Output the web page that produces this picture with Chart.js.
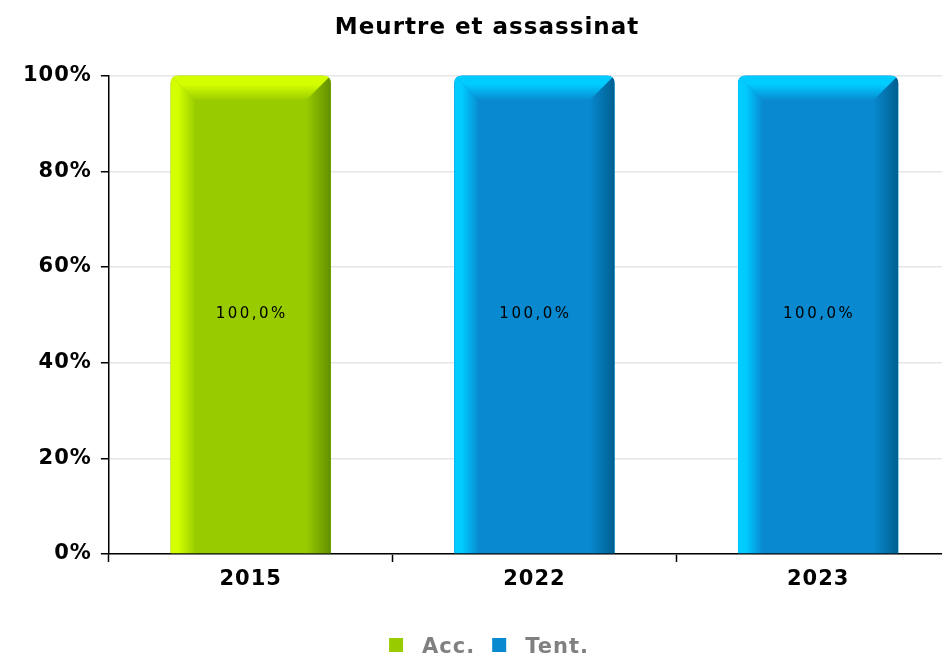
<!DOCTYPE html>
<html>
<head>
<meta charset="utf-8">
<script src="https://cdn.jsdelivr.net/npm/chart.js@4/dist/chart.umd.min.js"></script>
<style>
  html, body { margin: 0; padding: 0; background: #fff; overflow: hidden; }
  #wrap { position: absolute; left: 0; top: 0; }
</style>
</head>
<body>
<div id="wrap"><canvas id="chart" width="960" height="655"></canvas></div>
<script>
// ---- Data ----
const categories = ['2015', '2022', '2023'];
const seriesNames = ['Acc.', 'Tent.'];
const accValues  = [100, null, null];
const tentValues = [null, 100, 100];
const yTickValues = [0, 20, 40, 60, 80, 100];

// ---- Palette (main / light / dark) ----
const PAL = [
  { main: '#99cc00', light: '#d4ff00', dark: '#628f00' },
  { main: '#0889d0', light: '#00ccff', dark: '#005f8f' }
];

const FONT = '"DejaVu Sans", Verdana, sans-serif';
const RADIUS = 8;

function fmtPct(v) {
  return v.toFixed(1).replace('.', ',') + '%';
}

function roundTopPath(ctx, l, t, r, b, rad) {
  ctx.beginPath();
  ctx.moveTo(l, b);
  ctx.lineTo(l, t + rad);
  ctx.quadraticCurveTo(l, t, l + rad, t);
  ctx.lineTo(r - rad, t);
  ctx.quadraticCurveTo(r, t, r, t + rad);
  ctx.lineTo(r, b);
  ctx.closePath();
}

// slightly wider text, like the original renderer
const spacingPlugin = {
  id: 'spacing',
  beforeLayout(chart) { chart.ctx.letterSpacing = '1px'; },
  beforeDraw(chart) { chart.ctx.letterSpacing = '1px'; }
};

// ---- Bevel bars + value labels ----
const bevelPlugin = {
  id: 'bevel',
  afterDatasetsDraw(chart) {
    const ctx = chart.ctx;
    chart.data.datasets.forEach((ds, di) => {
      const meta = chart.getDatasetMeta(di);
      const pal = PAL[di];
      meta.data.forEach((bar, i) => {
        const v = ds.data[i];
        if (v == null || v === 0) return;
        const p = bar.getProps(['x', 'y', 'base', 'width'], true);
        const l = p.x - p.width / 2, r = p.x + p.width / 2;
        const t = Math.min(p.y, p.base), b = Math.max(p.y, p.base);
        const e = 25;
        ctx.save();
        roundTopPath(ctx, l, t, r, b, RADIUS);
        ctx.clip();
        ctx.fillStyle = pal.main;
        ctx.fillRect(l, t, r - l, b - t);

        // top bevel
        let g = ctx.createLinearGradient(0, t, 0, t + e);
        g.addColorStop(0, pal.light);
        g.addColorStop(0.35, pal.light);
        g.addColorStop(1, pal.main);
        ctx.fillStyle = g;
        ctx.beginPath();
        ctx.moveTo(l, t); ctx.lineTo(r, t); ctx.lineTo(r - e, t + e); ctx.lineTo(l + e, t + e);
        ctx.closePath(); ctx.fill();

        // left bevel
        g = ctx.createLinearGradient(l, 0, l + e, 0);
        g.addColorStop(0, pal.light);
        g.addColorStop(0.3, pal.light);
        g.addColorStop(1, pal.main);
        ctx.fillStyle = g;
        ctx.beginPath();
        ctx.moveTo(l, t); ctx.lineTo(l + e, t + e); ctx.lineTo(l + e, b); ctx.lineTo(l, b);
        ctx.closePath(); ctx.fill();

        // right bevel
        g = ctx.createLinearGradient(r - e, 0, r, 0);
        g.addColorStop(0, pal.main);
        g.addColorStop(1, pal.dark);
        ctx.fillStyle = g;
        ctx.beginPath();
        ctx.moveTo(r, t); ctx.lineTo(r, b); ctx.lineTo(r - e, b); ctx.lineTo(r - e, t + e);
        ctx.closePath(); ctx.fill();
        ctx.restore();

        // value label
        ctx.save();
        ctx.font = '15px ' + FONT;
        ctx.letterSpacing = '2.5px';
        ctx.fillStyle = '#000';
        ctx.textAlign = 'center';
        ctx.textBaseline = 'middle';
        ctx.fillText(fmtPct(v), p.x + 1, (t + b) / 2);
        ctx.restore();
      });
    });
  }
};

// ---- Legend at the bottom edge (partly cut off, as in the original) ----
const legendPlugin = {
  id: 'bottomLegend',
  afterDraw(chart) {
    const ctx = chart.ctx;
    ctx.save();
    ctx.font = 'bold 21px ' + FONT;
    ctx.letterSpacing = '1px';
    ctx.textBaseline = 'alphabetic';
    ctx.textAlign = 'left';
    const box = 14, gap = 19, itemGap = 17, baseY = 653;
    const items = chart.data.datasets.map((ds, i) => ({ text: ds.label, color: PAL[i].main, w: ctx.measureText(ds.label).width }));
    const total = items.reduce((s, it) => s + box + gap + it.w, 0) + itemGap * (items.length - 1);
    let x = 489 - total / 2;
    items.forEach(it => {
      ctx.fillStyle = it.color;
      ctx.fillRect(x, baseY - box - 1, box, box);
      x += box + gap;
      ctx.fillStyle = '#808080';
      ctx.fillText(it.text, x, baseY);
      x += it.w + itemGap;
    });
    ctx.restore();
  }
};

new Chart(document.getElementById('chart'), {
  type: 'bar',
  data: {
    labels: categories,
    datasets: [
      { label: seriesNames[0], data: accValues,  backgroundColor: PAL[0].main, borderWidth: 0,
        borderRadius: { topLeft: RADIUS, topRight: RADIUS }, borderSkipped: 'bottom' },
      { label: seriesNames[1], data: tentValues, backgroundColor: PAL[1].main, borderWidth: 0,
        borderRadius: { topLeft: RADIUS, topRight: RADIUS }, borderSkipped: 'bottom' }
    ]
  },
  options: {
    responsive: false,
    animation: false,
    barPercentage: 0.565,
    categoryPercentage: 1,
    layout: { padding: { left: 14, right: 0, top: 0, bottom: 61 } },
    plugins: {
      title: {
        display: true,
        text: 'Meurtre et assassinat',
        color: '#000',
        font: { family: FONT, size: 23, weight: 'bold' },
        padding: { top: 14, bottom: 34 }
      },
      legend: { display: false },
      tooltip: { enabled: false }
    },
    scales: {
      x: {
        stacked: true,
        grid: { drawOnChartArea: false, tickLength: 8, tickColor: '#000', tickWidth: 1.5 },
        border: { color: '#000', width: 1.5 },
        ticks: { color: '#000', font: { family: FONT, size: 21, weight: 'bold' }, padding: 5 },
        afterFit: axis => { axis.height = 40; }
      },
      y: {
        stacked: true,
        min: 0,
        max: 100,
        afterBuildTicks: axis => { axis.ticks = yTickValues.map(v => ({ value: v })); },
        grid: { color: '#e6e6e6', lineWidth: 1.5, tickLength: 8, tickColor: '#000', tickWidth: 1.5 },
        border: { color: '#000', width: 1.5 },
        ticks: {
          color: '#000',
          font: { family: FONT, size: 21, weight: 'bold' },
          padding: 9,
          callback: v => v + '%'
        }
      }
    }
  },
  plugins: [spacingPlugin, bevelPlugin, legendPlugin]
});
</script>
</body>
</html>
